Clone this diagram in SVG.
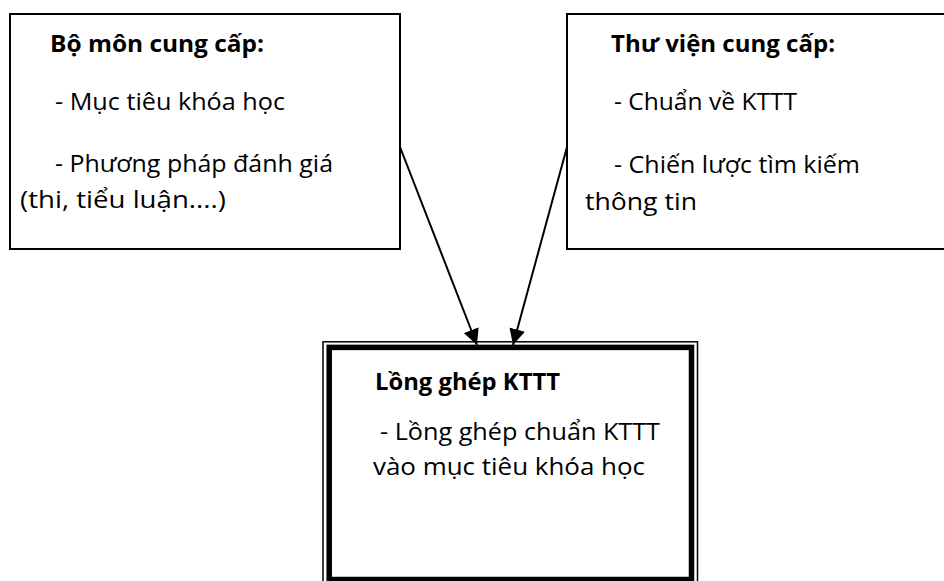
<svg xmlns="http://www.w3.org/2000/svg" width="944" height="581" viewBox="0 0 944 581">
  <defs>
    <marker id="arrowhead" viewBox="0 0 16 16" refX="16" refY="8" markerWidth="16" markerHeight="16" markerUnits="userSpaceOnUse" orient="auto">
      <path d="M0,0 L16,8 L0,16 Z" fill="#000"/>
    </marker>
  </defs>
  <style>
    .box { fill: #fff; stroke: #000; stroke-width: 2; }
    .thin { fill: none; stroke: #000; stroke-width: 1.5; }
    .thick { fill: none; stroke: #000; stroke-width: 5.5; }
    .edge { fill: none; stroke: #000; stroke-width: 2; marker-end: url(#arrowhead); }
    text { font-family: "Open Sans", "Noto Sans", "DejaVu Sans", sans-serif; font-size: 23px; fill: #000; }
    .title { font-weight: bold; }
  </style>
  <rect width="944" height="581" fill="#fff"/>

  <!-- Department box -->
  <g id="bo-mon">
    <rect class="box" x="10" y="14" width="390" height="235"/>
    <text class="title" x="50" y="52" textLength="214" lengthAdjust="spacingAndGlyphs">Bộ môn cung cấp:</text>
    <text x="55" y="110" textLength="230" lengthAdjust="spacingAndGlyphs">- Mục tiêu khóa học</text>
    <text x="55" y="172" textLength="278" lengthAdjust="spacingAndGlyphs">- Phương pháp đánh giá</text>
    <text x="20" y="208" textLength="206" lengthAdjust="spacingAndGlyphs">(thi, tiểu luận....)</text>
  </g>

  <!-- Library box -->
  <g id="thu-vien">
    <rect class="box" x="567" y="14" width="400" height="235"/>
    <text class="title" x="611" y="52" textLength="224" lengthAdjust="spacingAndGlyphs">Thư viện cung cấp:</text>
    <text x="614" y="110" textLength="183" lengthAdjust="spacingAndGlyphs">- Chuẩn về KTTT</text>
    <text x="614" y="173" textLength="246" lengthAdjust="spacingAndGlyphs">- Chiến lược tìm kiếm</text>
    <text x="585" y="210" textLength="112" lengthAdjust="spacingAndGlyphs">thông tin</text>
  </g>

  <!-- Integration box (thin-thick double border) -->
  <g id="long-ghep">
    <rect class="thin" x="323" y="341.8" width="374.5" height="260"/>
    <rect class="thick" x="329.2" y="347.4" width="362.3" height="232.1"/>
    <text class="title" x="375" y="390" textLength="185" lengthAdjust="spacingAndGlyphs">Lồng ghép KTTT</text>
    <text x="380" y="440" textLength="280" lengthAdjust="spacingAndGlyphs">- Lồng ghép chuẩn KTTT</text>
    <text x="373" y="475" textLength="272" lengthAdjust="spacingAndGlyphs">vào mục tiêu khóa học</text>
  </g>

  <g id="connectors">
    <line class="edge" x1="400" y1="147" x2="477" y2="345"/>
    <line class="edge" x1="567" y1="147" x2="513" y2="345"/>
  </g>
</svg>
